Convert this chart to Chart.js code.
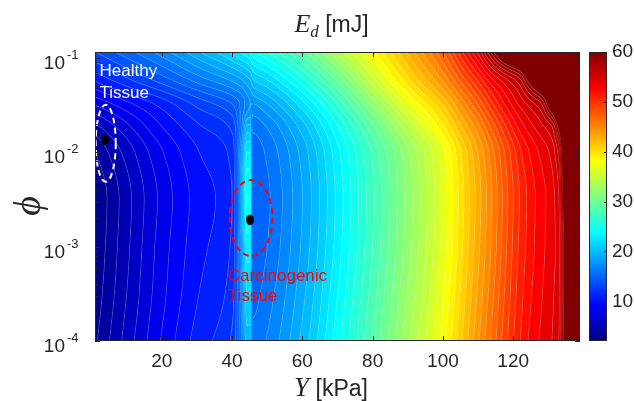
<!DOCTYPE html>
<html>
<head>
<meta charset="utf-8">
<script src="https://cdn.jsdelivr.net/npm/chart.js@4.4.0/dist/chart.umd.min.js"></script>
<style>
  html, body { margin: 0; padding: 0; background: #fff; }
  #wrap { width: 634px; height: 401px; }
</style>
</head>
<body>
<div id="wrap"><canvas id="edChart" width="634" height="401"></canvas></div>
<script>
// Young's modulus columns (kPa) and porosity rows of the E_d grid
const youngCols = [1, 10, 20, 30, 40, 42.5, 44.3, 45.2, 45.8, 50, 60, 70, 80, 90, 100, 106, 110, 114, 118, 122, 125, 128, 131, 133, 134.5, 136, 140];
const phiRows = [1e-4, 3.16e-4, 1e-3, 3.16e-3, 1e-2, 1.78e-2, 3.16e-2, 5.62e-2, 0.115];

// E_d [mJ] along each phi row (same order as youngCols)
const ed_1e4  = [3.8, 6.4, 9.1, 11.4, 13.2, 16.5, 20.5, 20.5, 16.3, 17.1, 20.3, 24.6, 29.1, 33.7, 38.5, 42.3, 44.8, 47.3, 49.8, 52.0, 53.3, 54.2, 55.0, 56.0, 60.5, 62, 64];
const ed_3e4  = [3.4, 6.0, 8.7, 10.9, 12.6, 17.2, 22, 22, 15.7, 16.5, 19.7, 24.0, 28.5, 33.1, 37.9, 41.7, 44.2, 46.7, 49.3, 51.6, 52.9, 53.9, 54.8, 55.8, 60.3, 62, 64];
const ed_1e3  = [3.15, 5.75, 8.5, 10.6, 12.2, 18, 23.5, 23.5, 15.2, 16.0, 19.2, 23.5, 28.0, 32.6, 37.4, 41.2, 43.7, 46.2, 48.9, 51.3, 52.6, 53.7, 54.6, 55.7, 60.2, 62, 64];
const ed_3e3  = [3.0, 5.6, 8.3, 10.4, 12.0, 18.8, 25, 25, 15.0, 15.8, 19.0, 23.3, 27.8, 32.4, 37.2, 41.0, 43.5, 46.0, 48.7, 51.1, 52.5, 53.6, 54.6, 56.0, 61, 62.5, 64.5];
const ed_1e2  = [4.0, 6.4, 8.9, 10.9, 12.4, 18, 23, 23, 15.4, 16.2, 19.4, 23.7, 28.2, 32.8, 37.7, 41.5, 44.0, 46.6, 49.3, 51.8, 53.2, 54.3, 55.4, 57.5, 62, 63, 65];
const ed_18e3 = [5.5, 7.6, 9.9, 11.7, 13.2, 16.5, 20.5, 20.5, 16.2, 17.0, 20.4, 24.8, 29.6, 34.7, 39.6, 43.2, 45.5, 48.2, 50.9, 53.3, 54.6, 55.6, 56.8, 60.3, 63, 64, 66];
const ed_3e2  = [8.0, 9.6, 11.3, 13.2, 14.9, 16.2, 17.5, 18, 17.9, 18.9, 22.5, 27.0, 32.2, 37.5, 42.0, 45.6, 48.0, 50.7, 53.2, 55.2, 56.4, 57.8, 62, 64, 65, 66, 68];
const ed_56e3 = [11.0, 12.6, 14.3, 16.2, 18.0, 18.7, 19.5, 19.9, 20.6, 21.8, 25.5, 30.0, 35.5, 40.5, 45.0, 48.6, 51.0, 53.6, 55.6, 57.6, 61, 64, 65.5, 66.5, 67.5, 68.5, 71];
const ed_1e1  = [14.0, 15.6, 17.5, 19.8, 22.3, 23.2, 23.8, 24.2, 24.6, 26.0, 29.5, 34.3, 38.8, 43.2, 48.0, 52.3, 55.3, 59.5, 64, 67, 69, 71, 73, 74, 75, 76, 79];
const edGrid = [ed_1e4, ed_3e4, ed_1e3, ed_3e3, ed_1e2, ed_18e3, ed_3e2, ed_56e3, ed_1e1];

// tissue points and the dashed regions round them
const tissueY = [3.8, 45.1];
const tissuePhi = [0.0135, 0.00192];
const regionY = [4.05, 45.4];
const regionPhi = [0.0124, 0.00201];
const regionHalfY = [2.85, 6.1];
const regionHalfDec = [0.408, 0.403];

const xTicks = [20, 40, 60, 80, 100, 120];
const yTicks = [1e-4, 1e-3, 1e-2, 1e-1];
const yTickExp = ['-4', '-3', '-2', '-1'];
const cbTicks = [10, 20, 30, 40, 50, 60];

const colorMin = 2.05, colorMax = 60, levelStep = 1;
const axisColor = '#262626';
const sans = '"Liberation Sans", Arial, sans-serif';
const serif = '"Liberation Serif", "DejaVu Serif", serif';

function jet(f) {
    f = Math.min(1, Math.max(0, f));
    const c = t => Math.round(255 * Math.min(1, Math.max(0, 1.5 - Math.abs(t))));
    return [c(4 * f - 3), c(4 * f - 2), c(4 * f - 1)];
}

function locate(arr, v) {
    let k = 0;
    while (k < arr.length - 2 && arr[k + 1] < v) k++;
    const t = (v - arr[k]) / (arr[k + 1] - arr[k]);
    return [k, Math.min(1, Math.max(0, t))];
}

// monotone cubic (pchip) slopes so the ridge does not overshoot
function pchipSlopes(xs, ys) {
    const n = xs.length, h = [], d = [], m = new Array(n);
    for (let i = 0; i < n - 1; i++) {
        h.push(xs[i + 1] - xs[i]);
        d.push((ys[i + 1] - ys[i]) / h[i]);
    }
    m[0] = d[0]; m[n - 1] = d[n - 2];
    for (let i = 1; i < n - 1; i++) {
        if (d[i - 1] * d[i] <= 0) { m[i] = 0; continue; }
        const w1 = 2 * h[i] + h[i - 1], w2 = h[i] + 2 * h[i - 1];
        m[i] = (w1 + w2) / (w1 / d[i - 1] + w2 / d[i]);
    }
    return m;
}

function hermite(xs, ys, ms, k, t) {
    const h = xs[k + 1] - xs[k], t2 = t * t, t3 = t2 * t;
    return (2 * t3 - 3 * t2 + 1) * ys[k] + (t3 - 2 * t2 + t) * h * ms[k]
         + (-2 * t3 + 3 * t2) * ys[k + 1] + (t3 - t2) * h * ms[k + 1];
}

const heatmapPlugin = {
    id: 'heatmap',
    beforeDatasetsDraw(chart) {
        const {ctx, chartArea: a, scales: {x, y}} = chart;
        const w = Math.round(a.right - a.left), h = Math.round(a.bottom - a.top);
        const logRows = phiRows.map(v => Math.log10(v));
        const colSeries = youngCols.map((_, k) => edGrid.map(row => row[k]));
        const colSlopes = colSeries.map(s => pchipSlopes(logRows, s));

        const cols = [];
        for (let i = 0; i < w; i++) cols.push(locate(youngCols, x.getValueForPixel(a.left + i + 0.5)));

        const E = new Float32Array(w * h);
        for (let j = 0; j < h; j++) {
            const [r, s] = locate(logRows, Math.log10(y.getValueForPixel(a.top + j + 0.5)));
            const vals = colSeries.map((ser, k) => hermite(logRows, ser, colSlopes[k], r, s));
            const ms = pchipSlopes(youngCols, vals);
            for (let i = 0; i < w; i++) {
                const [k, t] = cols[i];
                E[j * w + i] = hermite(youngCols, vals, ms, k, t);
            }
        }

        const off = document.createElement('canvas');
        off.width = w; off.height = h;
        const octx = off.getContext('2d');
        const img = octx.createImageData(w, h);
        for (let j = 0; j < h; j++) {
            for (let i = 0; i < w; i++) {
                const e = E[j * w + i];
                const L = Math.floor(e / levelStep) * levelStep;
                let [cr, cg, cb] = jet((L - colorMin) / (colorMax - colorMin));
                // thin contour lines, fainter where they crowd together
                const near = Math.round(e / levelStep) * levelStep;
                if (near <= colorMax) {
                    const gx = E[j * w + Math.min(w - 1, i + 1)] - E[j * w + Math.max(0, i - 1)];
                    const gy = E[Math.min(h - 1, j + 1) * w + i] - E[Math.max(0, j - 1) * w + i];
                    const g = Math.max(1e-6, Math.hypot(gx, gy) / 2);
                    const dist = Math.abs(e - near) / g;
                    const al = 0.3 * Math.max(0, Math.min(1, 1 - dist * 1.3)) * Math.min(1, 0.35 / g);
                    cr += (255 - cr) * al; cg += (255 - cg) * al; cb += (255 - cb) * al;
                }
                const p = (j * w + i) * 4;
                img.data[p] = cr; img.data[p + 1] = cg; img.data[p + 2] = cb; img.data[p + 3] = 255;
            }
        }
        octx.putImageData(img, 0, 0);
        ctx.drawImage(off, a.left, a.top);
    }
};

function drawParts(ctx, parts, cx, baseline) {
    let total = 0;
    parts.forEach(p => { ctx.font = p.font; p.w = ctx.measureText(p.text).width; total += p.w; });
    let xx = cx - total / 2;
    ctx.textAlign = 'left';
    ctx.textBaseline = 'alphabetic';
    parts.forEach(p => {
        ctx.font = p.font;
        ctx.fillText(p.text, xx, baseline + (p.dy || 0));
        xx += p.w;
    });
}

const decorPlugin = {
    id: 'decor',
    afterDatasetsDraw(chart) {
        const {ctx, chartArea: a, scales: {x, y, cb}} = chart;
        ctx.save();

        // dashed regions
        regionY.forEach((cy, i) => {
            const px = x.getPixelForValue(cy), py = y.getPixelForValue(regionPhi[i]);
            const rx = x.getPixelForValue(cy + regionHalfY[i]) - px;
            const ry = py - y.getPixelForValue(regionPhi[i] * Math.pow(10, regionHalfDec[i]));
            ctx.beginPath();
            ctx.ellipse(px, py, rx, ry, 0, 0, Math.PI * 2);
            ctx.setLineDash([6, 4]);
            ctx.lineWidth = 2;
            ctx.strokeStyle = i === 0 ? '#ffffff' : '#ff0000';
            ctx.stroke();
        });
        ctx.setLineDash([]);

        // annotations
        ctx.font = '17px ' + sans;
        ctx.textAlign = 'left';
        ctx.textBaseline = 'alphabetic';
        ctx.fillStyle = '#ffffff';
        ctx.fillText('Healthy', x.getPixelForValue(2.3), y.getPixelForValue(0.0646));
        ctx.fillText('Tissue', x.getPixelForValue(2.3), y.getPixelForValue(0.0646) + 22);
        ctx.fillStyle = '#ff0000';
        ctx.fillText('Carcinogenic', x.getPixelForValue(38.8), y.getPixelForValue(4.36e-4));
        ctx.fillText('Tissue', x.getPixelForValue(38.8), y.getPixelForValue(4.36e-4) + 20);

        // box and inward ticks
        ctx.strokeStyle = axisColor;
        ctx.lineWidth = 1;
        ctx.strokeRect(a.left + 0.5, a.top + 0.5, a.right - a.left - 1, a.bottom - a.top - 1);
        ctx.beginPath();
        xTicks.forEach(v => {
            const px = Math.round(x.getPixelForValue(v)) + 0.5;
            ctx.moveTo(px, a.bottom); ctx.lineTo(px, a.bottom - 5);
            ctx.moveTo(px, a.top); ctx.lineTo(px, a.top + 5);
        });
        for (let d = -4; d <= -1; d++) {
            for (let m = 1; m <= 9; m++) {
                const v = m * Math.pow(10, d);
                if (v > y.max * 1.0001) continue;
                const py = Math.round(y.getPixelForValue(v)) + 0.5;
                const len = m === 1 ? 5 : 3;
                ctx.moveTo(a.left, py); ctx.lineTo(a.left + len, py);
                ctx.moveTo(a.right, py); ctx.lineTo(a.right - len, py);
            }
        }
        ctx.stroke();

        // y tick labels with exponents
        ctx.fillStyle = axisColor;
        yTicks.forEach((v, i) => {
            const py = y.getPixelForValue(v);
            ctx.textAlign = 'right';
            ctx.font = '19px ' + sans;
            ctx.fillText('10', 65, py + 11);
            ctx.textAlign = 'left';
            ctx.font = '13px ' + sans;
            ctx.fillText(yTickExp[i], 67, py + 1);
        });

        // axis titles
        drawParts(ctx, [
            {text: 'E', font: 'italic 26px ' + serif},
            {text: 'd', font: 'italic 17px ' + serif, dy: 5},
            {text: ' [mJ]', font: '23px ' + sans}
        ], 331.5, 32);
        drawParts(ctx, [
            {text: 'Y', font: 'italic 27px ' + serif},
            {text: ' [kPa]', font: '23px ' + sans}
        ], 331, 396);
        ctx.save();
        ctx.translate(40, 206);
        ctx.rotate(-Math.PI / 2);
        ctx.font = 'italic 38px ' + serif;
        ctx.textAlign = 'center';
        ctx.fillText('\u03D5', 0, 0);
        ctx.restore();

        // colour bar
        const bx = cb.left + 9, bw = 18;
        for (let py = Math.floor(cb.top); py < Math.ceil(cb.bottom); py++) {
            const [r, g, b] = jet((cb.getValueForPixel(py + 0.5) - colorMin) / (colorMax - colorMin));
            ctx.fillStyle = `rgb(${r},${g},${b})`;
            ctx.fillRect(bx, py, bw, 1);
        }
        ctx.strokeStyle = axisColor;
        ctx.strokeRect(bx + 0.5, cb.top + 0.5, bw - 1, cb.bottom - cb.top - 1);
        ctx.beginPath();
        cbTicks.forEach(v => {
            const py = Math.round(cb.getPixelForValue(v)) + 0.5;
            ctx.moveTo(bx + bw, py); ctx.lineTo(bx + bw - 3, py);
        });
        ctx.stroke();
        ctx.restore();
    }
};

const dotImage = document.createElement('canvas');
dotImage.width = 10; dotImage.height = 12;
(function() {
    const c = dotImage.getContext('2d');
    c.fillStyle = '#000';
    c.beginPath();
    c.ellipse(5, 6, 4, 5.2, 0, 0, Math.PI * 2);
    c.fill();
})();

const chart = new Chart(document.getElementById('edChart'), {
    type: 'scatter',
    data: {
        datasets: [{
            data: tissueY.map((v, i) => ({x: v, y: tissuePhi[i]})),
            pointStyle: dotImage,
            pointRadius: 5
        }]
    },
    options: {
        responsive: false,
        animation: false,
        devicePixelRatio: 1,
        events: [],
        layout: { padding: { top: 52, left: 0, right: 0, bottom: 0 } },
        plugins: { legend: { display: false }, tooltip: { enabled: false } },
        scales: {
            x: {
                type: 'linear', min: 1, max: 139,
                grid: { display: false, drawTicks: false },
                border: { display: false },
                afterBuildTicks: s => { s.ticks = xTicks.map(v => ({value: v})); },
                afterFit: s => { s.height = 60; },
                ticks: { padding: 9, color: axisColor, maxRotation: 0, autoSkip: false,
                         font: { family: sans, size: 19 } }
            },
            y: {
                type: 'logarithmic', min: 1e-4, max: 0.115,
                grid: { display: false, drawTicks: false },
                border: { display: false },
                afterBuildTicks: s => { s.ticks = yTicks.map(v => ({value: v})); },
                afterFit: s => { s.width = 95; },
                ticks: { display: false }
            },
            cb: {
                type: 'linear', position: 'right', min: colorMin, max: colorMax,
                grid: { display: false, drawTicks: false },
                border: { display: false },
                afterBuildTicks: s => { s.ticks = cbTicks.map(v => ({value: v})); },
                afterFit: s => { s.width = 54; },
                ticks: { padding: 32, color: axisColor, font: { family: sans, size: 19 } }
            }
        }
    },
    plugins: [heatmapPlugin, decorPlugin]
});
</script>
</body>
</html>
